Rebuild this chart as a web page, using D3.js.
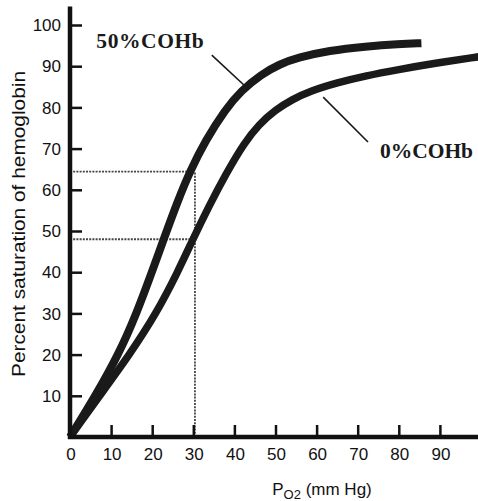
<!DOCTYPE html>
<html>
<head>
<meta charset="utf-8">
<script src="https://cdn.jsdelivr.net/npm/d3@7/dist/d3.min.js"></script>
<style>
  html, body { margin: 0; padding: 0; background: #fff; }
  svg { display: block; }
</style>
</head>
<body>
<svg id="chart" width="478" height="501"></svg>
<script>
// ---- data ----
const xTicks = [0, 10, 20, 30, 40, 50, 60, 70, 80, 90];
const yTicks = [10, 20, 30, 40, 50, 60, 70, 80, 90, 100];

// 50% COHb curve: PO2 (mm Hg) and % saturation
const po2_50 = [0, 6.2, 11.8, 16.2, 19.9, 22.8, 26.3, 29.2, 33, 37.8, 41.6, 46.5, 51, 55.5, 63, 72, 80, 85.5];
const sat_50 = [0, 10, 20, 30, 40, 48, 57.5, 64.5, 72, 79.5, 84, 88, 90.5, 92.1, 93.8, 94.8, 95.4, 95.6];

// 0% COHb curve
const po2_0 = [0, 7.2, 14.5, 21, 26.2, 29.9, 33.8, 37.9, 42.4, 46, 50, 54, 58.5, 65, 72, 80, 88, 99.5];
const sat_0 = [0, 10, 20, 30, 40, 48, 56, 63.8, 71.4, 75.9, 79.4, 81.9, 84, 86, 87.7, 89.2, 90.6, 92.3];

// reference (dotted) lines at PO2 = 30
const refPo2 = 30.4;
const refSat = [64.4, 48];

// annotations
const labels = ["50%COHb", "0%COHb"];
const labelPos = [[6.4, 94.4], [75.4, 67.7]];
const leaders = [[[34.5, 92.7], [43.1, 84.7]], [[61.6, 82.5], [72.5, 71.6]]];

// ---- drawing ----
const svg = d3.select("#chart");
svg.append("rect").attr("width", 478).attr("height", 501).attr("fill", "#fff");

const x = d3.scaleLinear().domain([0, 100]).range([70, 481]);
const y = d3.scaleLinear().domain([0, 100]).range([437, 25]);

const sans = "'Liberation Sans', Arial, Helvetica, sans-serif";
const serif = "'Liberation Serif', 'Times New Roman', serif";

// dotted reference lines
const dotted = svg.append("g")
  .attr("stroke", "#444").attr("stroke-width", 1.8)
  .attr("stroke-dasharray", "2,1.2").attr("fill", "none");
refSat.forEach(s => {
  dotted.append("line")
    .attr("x1", x(0)).attr("x2", x(refPo2 - 0.8))
    .attr("y1", y(s)).attr("y2", y(s));
});
dotted.append("line")
  .attr("x1", x(refPo2)).attr("x2", x(refPo2))
  .attr("y1", y(0)).attr("y2", y(refSat[0]));

// curves
const line = d3.line().x(d => x(d[0])).y(d => y(d[1])).curve(d3.curveBasis);
const c50 = po2_50.map((p, i) => [p, sat_50[i]]);
const c0 = po2_0.map((p, i) => [p, sat_0[i]]);
svg.append("path").attr("d", line(c0))
  .attr("fill", "none").attr("stroke", "#1a1a1a").attr("stroke-width", 7.5);
svg.append("path").attr("d", line(c50))
  .attr("fill", "none").attr("stroke", "#1a1a1a").attr("stroke-width", 8);

// axes
const xAxis = d3.axisBottom(x).tickValues(xTicks.slice(1)).tickSize(-12).tickFormat("");
const gx = svg.append("g").attr("transform", `translate(0,${y(0)})`).call(xAxis);
gx.select(".domain").remove();
gx.selectAll(".tick line").attr("stroke", "#111").attr("stroke-width", 2.5);
svg.append("line").attr("x1", x(0) - 2).attr("x2", x(100)).attr("y1", y(0)).attr("y2", y(0))
  .attr("stroke", "#111").attr("stroke-width", 4.5);

const yAxis = d3.axisLeft(y).tickValues(yTicks).tickSize(-12).tickFormat("");
const gy = svg.append("g").attr("transform", `translate(${x(0)},0)`).call(yAxis);
gy.select(".domain").remove();
gy.selectAll(".tick line").attr("stroke", "#111").attr("stroke-width", 2.5);
svg.append("line").attr("x1", x(0)).attr("x2", x(0)).attr("y1", y(0) + 2).attr("y2", y(104.5))
  .attr("stroke", "#111").attr("stroke-width", 4.5);

// tick labels
svg.append("g").selectAll("text").data(xTicks).join("text")
  .attr("x", d => x(d) + 1).attr("y", 460)
  .attr("text-anchor", "middle")
  .attr("font-family", sans).attr("font-size", 17).attr("fill", "#111")
  .text(d => d);
svg.append("g").selectAll("text").data(yTicks).join("text")
  .attr("x", 61).attr("y", d => y(d)).attr("dy", "0.36em")
  .attr("text-anchor", "end")
  .attr("font-family", sans).attr("font-size", 17).attr("fill", "#111")
  .text(d => d);

// axis titles
svg.append("text")
  .attr("transform", `translate(25,${(70 + 378) / 2}) rotate(-90)`)
  .attr("text-anchor", "middle")
  .attr("font-family", sans).attr("font-size", 17.5).attr("fill", "#111")
  .attr("textLength", 306).attr("lengthAdjust", "spacingAndGlyphs")
  .text("Percent saturation of hemoglobin");

const xt = svg.append("text")
  .attr("x", 322).attr("y", 495)
  .attr("text-anchor", "middle")
  .attr("font-family", sans).attr("font-size", 17).attr("fill", "#111");
xt.append("tspan").text("P");
xt.append("tspan").attr("font-size", 13).attr("dy", 4).text("O2");
xt.append("tspan").attr("dy", -4).text(" (mm Hg)");

// annotations
labels.forEach((t, i) => {
  svg.append("text")
    .attr("x", x(labelPos[i][0])).attr("y", y(labelPos[i][1]))
    .attr("font-family", serif).attr("font-weight", "bold").attr("font-size", 21.5)
    .attr("letter-spacing", i === 0 ? 0.6 : 0)
    .attr("fill", "#1a1a1a")
    .text(t);
  svg.append("line")
    .attr("x1", x(leaders[i][0][0])).attr("y1", y(leaders[i][0][1]))
    .attr("x2", x(leaders[i][1][0])).attr("y2", y(leaders[i][1][1]))
    .attr("stroke", "#1a1a1a").attr("stroke-width", 1.6);
});
</script>
</body>
</html>
